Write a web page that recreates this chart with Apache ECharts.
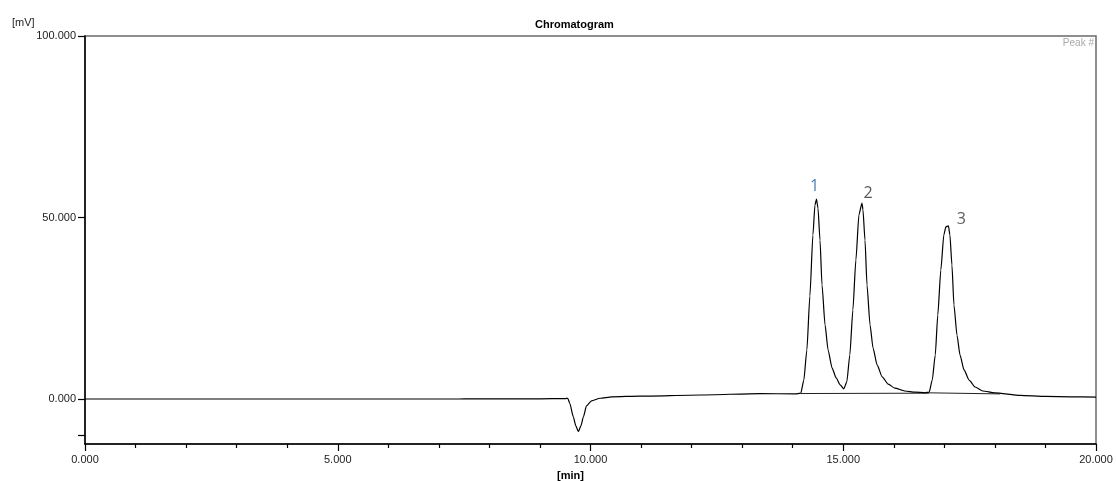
<!DOCTYPE html>
<html>
<head>
<meta charset="utf-8">
<title>Chromatogram</title>
<script src="https://cdn.jsdelivr.net/npm/echarts@6/dist/echarts.min.js"></script>
<style>
  html, body { margin: 0; padding: 0; background: #fff; }
  #chart { width: 1116px; height: 481px; }
</style>
</head>
<body>
<div id="chart"></div>
<script>
// retention time [min] / signal [mV]
var leadTrace = [[0, 0], [7.4, 0], [7.6, 0.05], [8.4, 0.05], [9.0, 0.05], [9.5, 0.1]];
var dipTrace = [
  [9.55, 0.2], [9.59, -1.2], [9.66, -4.9], [9.71, -7.4], [9.76, -9.0], [9.81, -7.4],
  [9.86, -4.9], [9.92, -1.9], [10.02, -0.5], [10.19, 0.2], [10.42, 0.6], [10.98, 0.8],
  [12.17, 1.1], [13.35, 1.5], [14.05, 1.4]
];
var peakTrace = [
  [14.16, 1.6], [14.22, 5.2], [14.28, 13.5], [14.34, 28.4], [14.40, 45.2], [14.44, 53.4],
  [14.47, 55.1], [14.50, 52.6], [14.54, 43.8], [14.58, 31.4], [14.64, 20.4], [14.70, 13.5],
  [14.78, 8.5], [14.86, 5.8], [14.94, 3.9], [15.01, 2.8], [15.07, 4.7], [15.13, 12.1],
  [15.19, 24.5], [15.25, 38.3], [15.31, 50.7], [15.37, 54.0], [15.39, 52.1], [15.43, 43.8],
  [15.47, 31.4], [15.53, 20.4], [15.59, 14.0], [15.67, 9.4], [15.77, 6.1], [15.89, 4.1],
  [16.02, 3.0], [16.22, 2.2], [16.42, 1.9], [16.62, 1.7], [16.70, 1.9], [16.76, 5.2],
  [16.82, 12.1], [16.87, 23.1], [16.93, 35.5], [16.99, 45.2], [17.03, 47.4], [17.08, 47.7],
  [17.11, 45.2], [17.15, 36.9], [17.19, 25.9], [17.25, 17.6], [17.31, 12.1], [17.39, 8.0],
  [17.49, 5.2], [17.61, 3.3], [17.76, 2.2], [18.00, 1.7]
];
var tailTrace = [[18.5, 1.0], [19.0, 0.7], [19.5, 0.6], [20, 0.5]];

// integration baselines under the peaks
var baseA = [[14.16, 1.5], [16.70, 1.6]];
var baseB = [[16.70, 1.7], [18.10, 1.4]];

var peakNames = ['1', '2', '3'];
var peakApex = [[14.47, 55.1], [15.37, 54.0], [17.08, 47.7]];

var xLabelValues = [0, 5, 10, 15, 20];
var yLabelValues = [0, 50, 100];
var yTickValues = [-10, 0, 50, 100];

var trace = leadTrace.concat(dipTrace, peakTrace, tailTrace);

var chart = echarts.init(document.getElementById('chart'));

var labelFont = { fontFamily: 'Liberation Sans, Arial, sans-serif', fontSize: 11, color: '#222' };
var peakColors = ['#1f5d9c', '#2b2b2b', '#333'];
var peakOffsets = [[-2, -13], [6, -10], [13, -6]];

chart.setOption({
  animation: false,
  title: {
    text: 'Chromatogram',
    left: 530,
    top: 14,
    textStyle: { fontFamily: 'Liberation Sans, Arial, sans-serif', fontSize: 11, fontWeight: 'bold', color: '#000' }
  },
  grid: {
    left: 85, right: 20, top: 36, bottom: 37,
    show: true,
    borderColor: '#6a6a6a',
    borderWidth: 1.5,
    backgroundColor: '#fff'
  },
  xAxis: {
    type: 'value',
    min: 0, max: 20, interval: 5,
    splitLine: { show: false },
    axisLine: { show: true, onZero: false, lineStyle: { color: '#000', width: 1.5 } },
    axisTick: { show: true, length: 7, lineStyle: { color: '#000', width: 1.2 } },
    minorTick: { show: true, splitNumber: 5, length: 4, lineStyle: { color: '#000', width: 1.2 } },
    axisLabel: Object.assign({
      margin: 10,
      customValues: xLabelValues,
      formatter: function (v) { return v.toFixed(3); }
    }, labelFont)
  },
  yAxis: {
    type: 'value',
    min: -12.4, max: 100,
    splitLine: { show: false },
    axisLine: { show: true, onZero: false, lineStyle: { color: '#000', width: 1.5 } },
    axisTick: { show: true, length: 7, customValues: yTickValues, lineStyle: { color: '#000', width: 1.2 } },
    axisLabel: Object.assign({
      margin: 9,
      customValues: yLabelValues,
      formatter: function (v) { return v.toFixed(3); }
    }, labelFont)
  },
  graphic: [
    { type: 'text', left: 12, top: 17, style: { text: '[mV]', font: '11px "Liberation Sans", Arial, sans-serif', fill: '#222' } },
    { type: 'text', left: 557, top: 470, style: { text: '[min]', font: 'bold 11px "Liberation Sans", Arial, sans-serif', fill: '#000' } },
    { type: 'text', right: 22, top: 38, style: { text: 'Peak #', font: '10px "Liberation Sans", Arial, sans-serif', fill: '#a8a8a8' } }
  ],
  series: [
    {
      name: 'signal',
      type: 'line',
      data: trace,
      showSymbol: false,
      smooth: 0.2,
      smoothMonotone: 'x',
      lineStyle: { color: '#000', width: 1.2 },
      z: 3
    },
    {
      name: 'baseA',
      type: 'line',
      data: baseA,
      showSymbol: false,
      lineStyle: { color: '#222', width: 1 },
      z: 2
    },
    {
      name: 'baseB',
      type: 'line',
      data: baseB,
      showSymbol: false,
      lineStyle: { color: '#222', width: 1 },
      z: 2
    },
    {
      name: 'peaks',
      type: 'scatter',
      symbolSize: 0,
      data: peakApex.map(function (p, i) {
        return {
          value: p,
          name: peakNames[i],
          label: {
            show: true,
            formatter: '{b}',
            position: 'inside',
            offset: peakOffsets[i],
            fontFamily: 'Open Sans, Noto Sans, sans-serif',
            fontSize: 16,
            color: peakColors[i]
          }
        };
      }),
      z: 4
    }
  ]
});
</script>
</body>
</html>
